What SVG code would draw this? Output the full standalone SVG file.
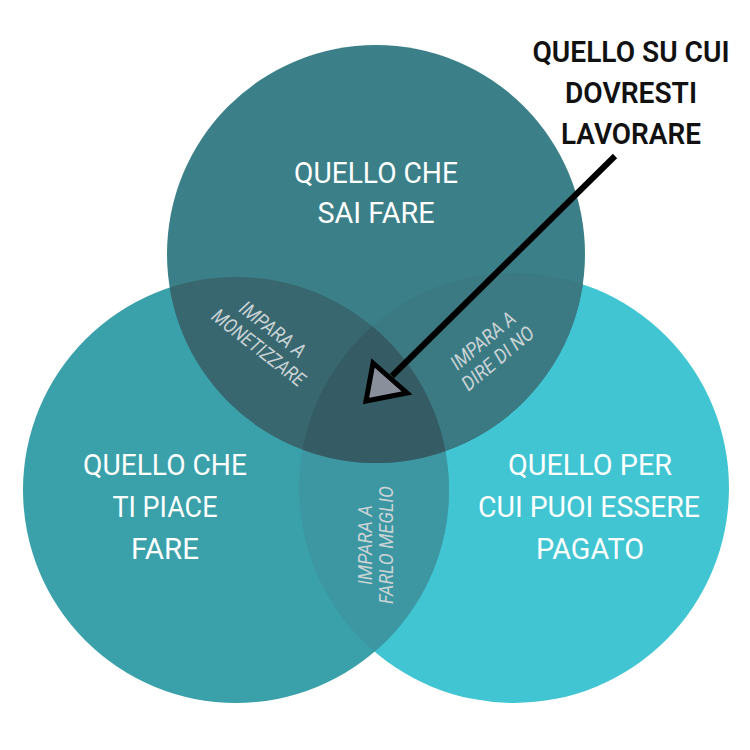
<svg xmlns="http://www.w3.org/2000/svg" width="750" height="750" viewBox="0 0 750 750">
<style>
.big{font-family:Roboto,"Open Sans","Liberation Sans",sans-serif;font-size:30px;fill:#ffffff;text-anchor:middle;font-weight:400}
.blk{font-family:Roboto,"Open Sans","Liberation Sans",sans-serif;font-size:30px;fill:#111111;text-anchor:middle;font-weight:600}
.sm{font-family:Roboto,"Open Sans","Liberation Sans",sans-serif;font-size:20px;fill:#c9d3d6;text-anchor:middle;font-style:italic;font-weight:400}
</style>
<defs>
<clipPath id="cT"><circle cx="376" cy="254" r="209"/></clipPath>
<clipPath id="cL"><circle cx="236" cy="490" r="213"/></clipPath>
</defs>
<rect width="750" height="750" fill="#ffffff"/>
<g id="shapes">
<circle cx="514" cy="488" r="215" fill="#41c5d3"/>
<circle cx="236" cy="490" r="213" fill="#3aa0aa"/>
<circle cx="376" cy="254" r="209" fill="#3b7f88"/>
<g clip-path="url(#cL)"><circle cx="514" cy="488" r="215" fill="#3c97a2"/></g>
<g clip-path="url(#cT)">
<circle cx="514" cy="488" r="215" fill="#3b7a83"/>
<circle cx="236" cy="490" r="213" fill="#38676f"/>
<g clip-path="url(#cL)"><circle cx="514" cy="488" r="215" fill="#355c64"/></g>
</g>
</g>
<g id="node-top">
<text class="big" x="376" y="183" textLength="164" lengthAdjust="spacingAndGlyphs">QUELLO CHE</text>
<text class="big" x="376" y="223" textLength="117" lengthAdjust="spacingAndGlyphs">SAI FARE</text>
</g>
<g id="node-left">
<text class="big" x="165" y="475" textLength="164" lengthAdjust="spacingAndGlyphs">QUELLO CHE</text>
<text class="big" x="165" y="517" textLength="105" lengthAdjust="spacingAndGlyphs">TI PIACE</text>
<text class="big" x="165" y="559" textLength="68" lengthAdjust="spacingAndGlyphs">FARE</text>
</g>
<g id="node-right">
<text class="big" x="590" y="475" textLength="164" lengthAdjust="spacingAndGlyphs">QUELLO PER</text>
<text class="big" x="589" y="517" textLength="222" lengthAdjust="spacingAndGlyphs">CUI PUOI ESSERE</text>
<text class="big" x="590" y="559" textLength="108" lengthAdjust="spacingAndGlyphs">PAGATO</text>
</g>
<g id="label-monetizzare" transform="translate(266,338) rotate(38)">
<text class="sm" x="0" y="-4" textLength="78" lengthAdjust="spacingAndGlyphs">IMPARA A</text>
<text class="sm" x="0" y="19" textLength="112" lengthAdjust="spacingAndGlyphs">MONETIZZARE</text>
</g>
<g id="label-direno" transform="translate(490,349) rotate(-40)">
<text class="sm" x="0" y="-4" textLength="78" lengthAdjust="spacingAndGlyphs">IMPARA A</text>
<text class="sm" x="0" y="19" textLength="88" lengthAdjust="spacingAndGlyphs">DIRE DI NO</text>
</g>
<g id="label-meglio" transform="translate(360,545) rotate(-90)">
<text class="sm" x="0" y="12" textLength="80" lengthAdjust="spacingAndGlyphs">IMPARA A</text>
<text class="sm" x="0" y="33" textLength="118" lengthAdjust="spacingAndGlyphs">FARLO MEGLIO</text>
</g>
<g id="node-target">
<text class="blk" x="631" y="62" textLength="197" lengthAdjust="spacingAndGlyphs">QUELLO SU CUI</text>
<text class="blk" x="631" y="103" textLength="132" lengthAdjust="spacingAndGlyphs">DOVRESTI</text>
<text class="blk" x="631" y="144" textLength="140" lengthAdjust="spacingAndGlyphs">LAVORARE</text>
</g>
<g id="connectors">
<line x1="615" y1="156" x2="392" y2="376" stroke="#000" stroke-width="6"/>
<polygon points="373,363 407,393 366,401" fill="#8a8f9c" stroke="#000" stroke-width="5" stroke-linejoin="miter"/>
</g>
</svg>
